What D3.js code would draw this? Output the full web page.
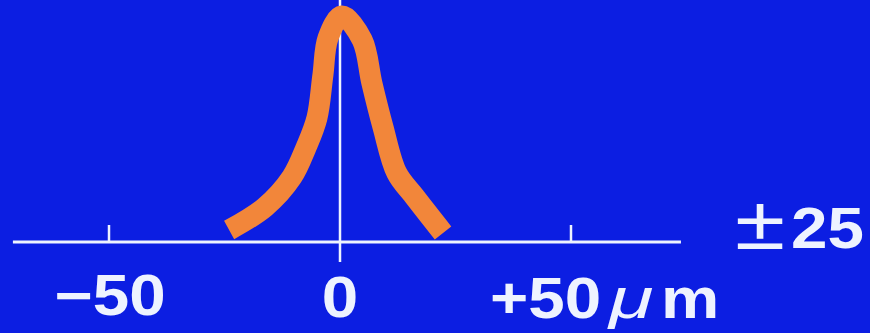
<!DOCTYPE html>
<html><head><meta charset="utf-8">
<script src="https://cdn.jsdelivr.net/npm/d3@7"></script>
<style>html,body{margin:0;padding:0;background:#0c1ee2;overflow:hidden}</style>
</head><body>
<svg id="c" width="870" height="333"></svg>
<script>
// position in micrometres
const profileX = [-24.0, -16.2, -10.4, -7.4, -5.0, -3.7, -2.6, 0.4, 4.8, 6.9, 9.3, 12.3, 16.2, 22.3];
// relative intensity (%)
const profileY = [5.2, 15.1, 28.0, 40.5, 53.4, 72.0, 87.9, 97.4, 87.1, 68.5, 49.6, 29.7, 19.4, 3.9];
const tickValues = [-50, 0, 50];
const tickLabels = ["\u221250", "0", "+50"];
const unitLabel = ["\u03bc", "m"];
const widthSign = "\u00b1";
const widthValue = "25";
const xDomain = [-70.8, 73.8];

const svg = d3.select("#c");
const W = 870, H = 333;
svg.append("rect").attr("width", W).attr("height", H).attr("fill", "#0c1ee2");

const x = d3.scaleLinear().domain([-50, 50]).range([109, 571]);
const y = d3.scaleLinear().domain([0, 100]).range([242, 10]);

const fg = "#eef3ff";

// horizontal axis
svg.append("line")
  .attr("x1", x(xDomain[0])).attr("x2", x(xDomain[1]))
  .attr("y1", y(0)).attr("y2", y(0))
  .attr("stroke", fg).attr("stroke-width", 3);

// vertical axis at 0
svg.append("line")
  .attr("x1", x(0)).attr("x2", x(0))
  .attr("y1", 0).attr("y2", y(0) + 20)
  .attr("stroke", fg).attr("stroke-width", 2.5);

// ticks at ±50
svg.selectAll(".tk").data(tickValues.filter(v => v !== 0)).enter().append("line")
  .attr("x1", d => x(d)).attr("x2", d => x(d))
  .attr("y1", y(0)).attr("y2", y(0) - 17)
  .attr("stroke", fg).attr("stroke-width", 2.5);

// profile curve
const pts = profileX.map((v, i) => [v, profileY[i]]);
const line = d3.line().x(d => x(d[0])).y(d => y(d[1])).curve(d3.curveCatmullRom.alpha(0.5));
svg.append("path").attr("d", line(pts))
  .attr("fill", "none").attr("stroke", "#f2863a")
  .attr("stroke-width", 21).attr("stroke-linecap", "butt").attr("stroke-linejoin", "round");

// labels
const font = "'Liberation Sans', Arial, sans-serif";
function label(px, py, anchor, sx = 1.15) {
  return svg.append("text")
    .attr("transform", `translate(${px},${py}) scale(${sx},1)`)
    .attr("text-anchor", anchor)
    .attr("fill", fg).attr("font-family", font).attr("font-weight", "bold").attr("font-size", 57);
}
label(x(-50) + 1, 315, "middle").text(tickLabels[0]);
label(x(0), 317, "middle").text(tickLabels[1]);
label(490, 318, "start").text(tickLabels[2]);
label(609, 318, "start", 1.4).attr("font-style", "italic").attr("font-weight", "normal").attr("font-size", 58).text(unitLabel[0]);
label(661, 318, "start").text(unitLabel[1]);
label(735, 249, "start", 1.2).attr("font-weight", "normal").attr("font-size", 76).text(widthSign);
label(791, 248, "start").text(widthValue);
</script>
</body></html>
